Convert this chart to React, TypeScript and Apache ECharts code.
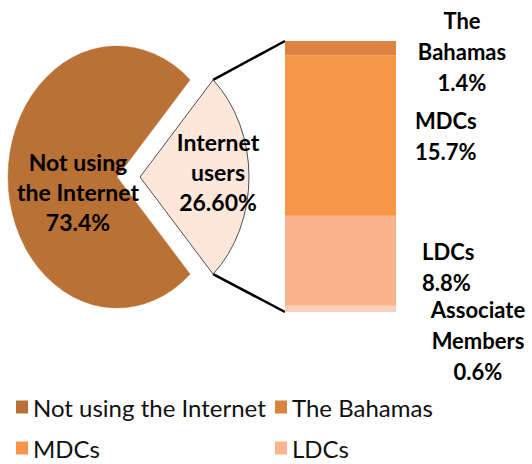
import React, { useEffect, useRef } from 'react';
import * as echarts from 'echarts';

// ---- data ----
const pieNames = ['Not using the Internet', 'Internet users'];
const pieValues = [73.4, 26.6];
const pieLabels = ['Not using\nthe Internet\n73.4%', 'Internet\nusers\n26.60%'];

const barNames = ['Associate Members', 'LDCs', 'MDCs', 'The Bahamas'];
const barValues = [0.6, 8.8, 15.7, 1.4];

const legendItems = ['Not using the Internet', 'The Bahamas', 'MDCs', 'LDCs'];

// ---- styles / layout ----
const pieColors = ['#B97135', '#FDE6DA'];
const barColors = ['#FCCFB8', '#F9B38D', '#F79646', '#DB8441'];
const PIE_CX = 117;
const PIE_CY = 177;
const RX = 109;
const RY = 131;
const EXPLODE = 23;
const GRID = { left: 285, top: 41, width: 111, height: 271 };
const pieLabelOffsets = [[-39, 15], [78, -5]];
const barLabelStyles = [
  { align: 'center', offset: [82, 32] },
  { align: 'left', offset: [26, 6] },
  { align: 'left', offset: [19, 0] },
  { align: 'center', offset: [66, 3] },
];
const legendPos = [[16, 395], [275, 395], [16, 436], [275, 436]];
const FONT = 'Lato, "Open Sans", sans-serif';

export default function App() {
  const ref = useRef<HTMLDivElement>(null);
  useEffect(() => {
    if (!ref.current) return;
    const chart = echarts.init(ref.current, null, { renderer: 'svg' });
    const total = pieValues.reduce((a, b) => a + b, 0);
    const half = (pieValues[1] / total) * Math.PI;
    const barTotal = barValues.reduce((a, b) => a + b, 0);

    const pieSeries = pieNames.map((name, k) => {
      const start = k === 1 ? -half : half;
      const dx = k === 1 ? EXPLODE : 0;
      return {
        type: 'custom',
        name,
        coordinateSystem: 'none',
        data: [pieValues[k]],
        itemStyle: { color: pieColors[k] },
        renderItem: (params: any, api: any) => {
          const end = start + (api.value(0) / total) * Math.PI * 2;
          return {
            type: 'group',
            children: [
              {
                type: 'sector',
                x: PIE_CX + dx,
                y: PIE_CY,
                scaleX: RX / RY,
                shape: { cx: 0, cy: 0, r: RY, r0: 0, startAngle: start, endAngle: end, clockwise: true },
                style: {
                  fill: pieColors[k],
                  stroke: k === 1 ? '#404040' : pieColors[k],
                  lineWidth: k === 1 ? 1 : 0.5,
                },
              },
              {
                type: 'text',
                x: PIE_CX + dx + pieLabelOffsets[k][0],
                y: PIE_CY + pieLabelOffsets[k][1],
                style: {
                  text: pieLabels[k],
                  fill: '#000',
                  fontFamily: FONT,
                  fontSize: 23,
                  fontWeight: 'bold',
                  lineHeight: 30,
                  textAlign: 'center',
                  textVerticalAlign: 'middle',
                },
              },
            ],
          };
        },
      };
    });

    const barSeries = barNames.map((name, i) => ({
      type: 'bar',
      name,
      stack: 'share',
      barWidth: '100%',
      data: [barValues[i]],
      itemStyle: { color: barColors[i] },
      label: {
        show: true,
        position: 'right',
        distance: 0,
        align: barLabelStyles[i].align,
        offset: barLabelStyles[i].offset,
        formatter: (p: any) => `${p.seriesName.replace(' ', '\n')}\n${p.value}%`,
        color: '#000',
        fontFamily: FONT,
        fontSize: 22,
        fontWeight: 'bold',
        lineHeight: 31,
      },
    }));

    const cornerX = PIE_CX + EXPLODE + RX * Math.cos(half);
    const cornerDy = RY * Math.sin(half);

    const legends = legendItems.map((name, i) => ({
      left: legendPos[i][0],
      top: legendPos[i][1],
      padding: 0,
      itemWidth: 12,
      itemHeight: 13,
      icon: 'rect',
      selectedMode: false,
      data: [name],
      textStyle: { fontFamily: FONT, fontSize: 24, color: '#111', lineHeight: 24 },
    }));

    chart.setOption({
      animation: false,
      backgroundColor: '#fff',
      grid: { ...GRID },
      xAxis: { type: 'category', data: [''], show: false },
      yAxis: { type: 'value', min: 0, max: barTotal, show: false },
      legend: legends,
      graphic: [
        {
          type: 'line',
          shape: { x1: cornerX, y1: PIE_CY - cornerDy, x2: GRID.left, y2: GRID.top },
          style: { stroke: '#000', lineWidth: 2.5 },
        },
        {
          type: 'line',
          shape: { x1: cornerX, y1: PIE_CY + cornerDy, x2: GRID.left, y2: GRID.top + GRID.height },
          style: { stroke: '#000', lineWidth: 2.5 },
        },
      ],
      series: [...pieSeries, ...barSeries],
    });
    return () => chart.dispose();
  }, []);
  return <div ref={ref} style={{ position: 'fixed', left: 0, top: 0, width: 532, height: 464 }} />;
}
